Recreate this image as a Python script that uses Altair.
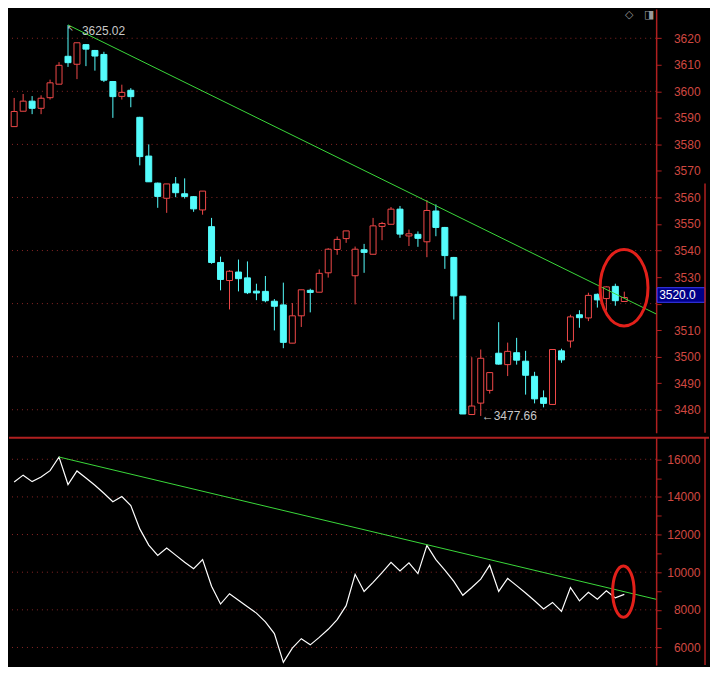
import altair as alt
import pandas as pd

# ---------------- data ----------------
N = list(range(1, 70))
OPEN = [3586.7, 3592.5, 3596.3, 3593.6, 3597.6, 3602.7, 3613.2, 3610.2, 3617.6, 3615.4,
        3613.9, 3603.7, 3598.1, 3600.4, 3590.2, 3575.6, 3565.4, 3559.7, 3565.1, 3561.4,
        3560.3, 3555.3, 3549.0, 3535.5, 3528.7, 3531.9, 3529.7, 3524.7, 3524.6, 3520.9,
        3519.5, 3505.1, 3515.4, 3525.0, 3524.3, 3531.6, 3540.4, 3544.5, 3530.5, 3540.3,
        3538.6, 3549.1, 3549.9, 3555.6, 3545.5, 3546.1, 3543.3, 3554.9, 3548.7, 3537.4,
        3522.8, 3478.2, 3482.5, 3487.3, 3501.3, 3497.0, 3501.5, 3498.3, 3492.6, 3484.5,
        3482.0, 3502.2, 3505.9, 3515.8, 3514.6, 3523.5, 3521.9, 3526.5, 3520.8]
HIGH = [3597.5, 3599.0, 3598.2, 3598.5, 3604.4, 3611.0, 3625.02, 3618.3, 3617.8, 3615.6,
        3614.9, 3603.9, 3602.5, 3601.2, 3590.4, 3580.0, 3565.6, 3565.1, 3567.7, 3567.2,
        3560.5, 3562.4, 3552.3, 3537.7, 3532.6, 3536.6, 3535.9, 3527.5, 3530.4, 3521.7,
        3527.9, 3520.2, 3525.2, 3525.6, 3532.9, 3540.9, 3545.3, 3547.4, 3541.5, 3542.5,
        3552.3, 3550.8, 3556.4, 3556.8, 3547.9, 3547.2, 3559.0, 3557.4, 3548.9, 3537.6,
        3522.8, 3499.8, 3502.7, 3494.2, 3513.0, 3505.3, 3507.1, 3502.2, 3494.3, 3487.3,
        3502.7, 3503.0, 3515.8, 3517.5, 3524.1, 3523.8, 3526.5, 3527.5, 3524.5]
LOW = [3586.7, 3592.5, 3591.4, 3591.4, 3596.9, 3602.7, 3609.2, 3604.6, 3609.5, 3607.8,
       3603.5, 3590.0, 3596.9, 3594.0, 3572.1, 3565.9, 3556.1, 3554.2, 3560.1, 3559.6,
       3554.6, 3553.5, 3535.0, 3525.0, 3517.8, 3524.6, 3523.6, 3521.3, 3520.5, 3509.9,
       3503.2, 3505.1, 3511.2, 3516.7, 3524.3, 3529.8, 3538.4, 3542.9, 3519.7, 3531.6,
       3538.6, 3543.9, 3549.9, 3544.8, 3541.7, 3541.4, 3537.5, 3545.4, 3533.1, 3514.0,
       3478.4, 3478.0, 3477.66, 3486.1, 3497.0, 3492.7, 3497.0, 3485.7, 3482.4, 3480.9,
       3482.0, 3497.7, 3503.4, 3510.9, 3513.4, 3518.5, 3517.4, 3519.2, 3520.8]
CLOSE = [3592.4, 3596.3, 3593.6, 3597.4, 3603.2, 3609.8, 3610.8, 3618.3, 3615.9, 3613.3,
         3604.2, 3598.0, 3599.6, 3598.0, 3575.4, 3565.9, 3560.4, 3565.1, 3561.8, 3560.4,
         3555.7, 3562.4, 3535.5, 3529.1, 3532.2, 3529.4, 3524.1, 3524.0, 3521.1, 3519.0,
         3505.4, 3515.4, 3525.2, 3524.2, 3531.4, 3540.5, 3544.2, 3547.4, 3540.5, 3539.3,
         3549.3, 3550.2, 3555.6, 3546.2, 3546.3, 3544.6, 3555.1, 3548.7, 3538.1, 3522.9,
         3478.4, 3481.4, 3499.4, 3494.0, 3497.2, 3502.0, 3498.7, 3493.0, 3484.1, 3482.4,
         3502.7, 3498.8, 3515.0, 3514.7, 3523.1, 3521.4, 3526.3, 3521.1, 3522.3]
LINE = [14795, 15157, 14812, 15053, 15398, 16120, 14658, 15380, 15002, 14623,
        14193, 13745, 14021, 13539, 12300, 11439, 10888, 11284, 10906, 10527,
        10183, 10665, 9254, 8307, 8858, 8514, 8169, 7825, 7361, 6741,
        5209, 5967, 6466, 6139, 6535, 6965, 7481, 8221, 9890, 8978,
        9460, 9977, 10527, 10063, 10493, 9925, 11422, 10665, 10114, 9512,
        8772, 9185, 9632, 10372, 8978, 9667, 9288, 8892, 8479, 8049,
        8393, 7911, 9185, 8479, 8927, 8565, 9013, 8634, 8823]

TREND_UP_X = [7, 72.55]
TREND_UP_Y = [3625.02, 3516.1]
TREND_LO_X = [6, 72.55]
TREND_LO_Y = [16120, 8560]

UP_TICKS = list(range(3480, 3621, 10))
UP_GRID = list(range(3480, 3621, 20))
LO_TICKS = list(range(6000, 16001, 1000))
LO_GRID = list(range(6000, 16001, 2000))

PEAK_N, PEAK_P, PEAK_LABEL = 7, 3625.02, "3625.02"
LOW_N, LOW_P, LOW_LABEL = 53, 3477.66, "←3477.66"
TAG_TEXT, TAG_TOP, TAG_BOT, TAG_MID = "3520.0", 3526.0, 3520.5, 3523.2
TAG_COVERS = 3520   # axis label hidden behind the last-price tag
ELL_UP = (68.97, 3526.0)
ELL_LO = (68.9, 8972)

# ---------------- styling ----------------
BG = "#000000"
RED = "#f04848"
CYAN = "#54fcfc"
GREEN = "#3ad83a"
GRID = "#8a2626"
AXC = "#b02020"
LBL = "#d04840"
TXT = "#c8c8c8"
ELL = "#e2201a"
FONT = "Liberation Sans"

W, H_UP, H_LO = 649, 425, 228

xs = alt.Scale(domain=[0.424, 72.55], nice=False, zero=False, padding=0)
ys_up = alt.Scale(domain=[3471.34, 3631.05], nice=False, zero=False, padding=0)
ys_lo = alt.Scale(domain=[5065, 17146], nice=False, zero=False, padding=0)


def ellipse_path(a):
    k = 0.5523
    return (f"M {a} 0 C {a} {k} {a*k:.4f} 1 0 1 C {-a*k:.4f} 1 {-a} {k} {-a} 0 "
            f"C {-a} {-k} {-a*k:.4f} -1 0 -1 C {a*k:.4f} -1 {a} {-k} {a} 0 Z")


df = pd.DataFrame({"n": N, "o": OPEN, "h": HIGH, "l": LOW, "c": CLOSE})
df["dir"] = ["up" if c >= o else "down" for o, c in zip(OPEN, CLOSE)]
df["top"] = df[["o", "c"]].max(axis=1)
df["bot"] = df[["o", "c"]].min(axis=1)

dir_stroke = alt.Scale(domain=["up", "down"], range=[RED, CYAN])
dir_fill = alt.Scale(domain=["up", "down"], range=[BG, CYAN])

# ---------------- upper panel ----------------
up_axis = alt.Axis(orient="right", values=UP_TICKS, format="d", grid=False, title=None,
                   domainColor=AXC, domainWidth=1.5, tickColor=AXC, tickSize=5,
                   labelColor=LBL, labelFont=FONT, labelFontSize=12, labelAlign="right",
                   labelBaseline="middle", labelPadding=39, labelOverlap=False,
                   labelFlush=False, labelBound=False,
                   labelExpr=f"datum.value === {TAG_COVERS} ? '' : datum.label")


def YU(field):
    return alt.Y(field, scale=ys_up, axis=up_axis)


grid_up = alt.Chart(pd.DataFrame({"g": UP_GRID})).mark_rule(
    color=GRID, strokeDash=[1, 4], strokeWidth=1).encode(y=YU("g:Q"))

wicks = alt.Chart(df).mark_rule(strokeWidth=1).encode(
    x=alt.X("n:Q", scale=xs, axis=None),
    y=YU("l:Q"), y2="h:Q",
    color=alt.Color("dir:N", scale=dir_stroke, legend=None))

bodies = alt.Chart(df).mark_bar(size=6, strokeWidth=1, opacity=1).encode(
    x=alt.X("n:Q", scale=xs, axis=None),
    y=YU("bot:Q"), y2="top:Q",
    fill=alt.Fill("dir:N", scale=dir_fill, legend=None),
    stroke=alt.Stroke("dir:N", scale=dir_stroke, legend=None))

trend_up = alt.Chart(pd.DataFrame({"x": [TREND_UP_X[0]], "x2": [TREND_UP_X[1]],
                                   "y": [TREND_UP_Y[0]], "y2": [TREND_UP_Y[1]]})).mark_rule(
    color=GREEN, strokeWidth=1).encode(
    x=alt.X("x:Q", scale=xs, axis=None), x2="x2:Q", y=YU("y:Q"), y2="y2:Q")

peak_df = pd.DataFrame({"n": [PEAK_N], "p": [PEAK_P], "t": [PEAK_LABEL], "a": ["↖"]})
peak_txt = alt.Chart(peak_df).mark_text(
    align="left", baseline="middle", dx=14, dy=6, font=FONT, fontSize=12, color=TXT).encode(
    x=alt.X("n:Q", scale=xs, axis=None), y=YU("p:Q"), text="t:N")
peak_arrow = alt.Chart(peak_df).mark_text(
    align="left", baseline="top", dx=-1, dy=0, font="DejaVu Sans", fontSize=8, color=TXT).encode(
    x=alt.X("n:Q", scale=xs, axis=None), y=YU("p:Q"), text="a:N")

low_txt = alt.Chart(pd.DataFrame({"n": [LOW_N], "p": [LOW_P], "t": [LOW_LABEL]})).mark_text(
    align="left", baseline="middle", dx=1, dy=0, font=FONT, fontSize=12, color=TXT).encode(
    x=alt.X("n:Q", scale=xs, axis=None), y=YU("p:Q"), text="t:N")

ell_up = alt.Chart(pd.DataFrame({"n": [ELL_UP[0]], "p": [ELL_UP[1]]})).mark_point(
    shape=ellipse_path(0.627), size=5868, filled=False, stroke=ELL, strokeWidth=3,
    opacity=1).encode(
    x=alt.X("n:Q", scale=xs, axis=None), y=YU("p:Q"))

tag_df = pd.DataFrame({"y": [TAG_TOP], "y2": [TAG_BOT], "m": [TAG_MID], "t": [TAG_TEXT]})
tag_box = alt.Chart(tag_df).mark_rect(fill="#000088", stroke="#3a3aff", strokeWidth=1).encode(
    x=alt.value(650), x2=alt.value(698), y=YU("y:Q"), y2="y2:Q")
tag_txt = alt.Chart(tag_df).mark_text(
    align="left", baseline="middle", font=FONT, fontSize=12, color="#ffffff").encode(
    x=alt.value(652), y=YU("m:Q"), text="t:N")

icons = alt.Chart(pd.DataFrame({"t": ["◇", "◨"], "px": [622, 642]})).mark_text(
    align="center", baseline="middle", font="DejaVu Sans", fontSize=11, color="#9a9a9a").encode(
    x=alt.X("px:Q", scale=None, axis=None), y=alt.value(6.5), text="t:N")

right_up = alt.Chart(pd.DataFrame({"k": [0]})).mark_rule(color=AXC, strokeWidth=1.5).encode(
    x=alt.value(698), y=alt.value(175), y2=alt.value(H_UP))

upper = alt.layer(grid_up, wicks, bodies, trend_up, peak_arrow, peak_txt, low_txt,
                  ell_up, tag_box, tag_txt, icons, right_up).properties(width=W, height=H_UP)

# ---------------- lower panel ----------------
lo_axis = alt.Axis(orient="right", values=LO_TICKS, format="d", grid=False, title=None,
                   domainColor=AXC, domainWidth=1.5, tickColor=AXC, tickSize=5,
                   labelColor=LBL, labelFont=FONT, labelFontSize=12, labelAlign="right",
                   labelBaseline="middle", labelPadding=39, labelOverlap=False,
                   labelFlush=False, labelBound=False,
                   labelExpr="datum.value % 2000 === 0 ? datum.label : ''")


def YL(field):
    return alt.Y(field, scale=ys_lo, axis=lo_axis)


grid_lo = alt.Chart(pd.DataFrame({"g": LO_GRID})).mark_rule(
    color=GRID, strokeDash=[1, 4], strokeWidth=1).encode(y=YL("g:Q"))

sep = alt.Chart(pd.DataFrame({"k": [0]})).mark_rule(color=AXC, strokeWidth=2).encode(
    x=alt.value(0), x2=alt.value(702), y=alt.value(0))

right_lo = alt.Chart(pd.DataFrame({"k": [0]})).mark_rule(color=AXC, strokeWidth=1.5).encode(
    x=alt.value(698), y=alt.value(0), y2=alt.value(H_LO))

line_df = pd.DataFrame({"n": N, "v": LINE})
white = alt.Chart(line_df).mark_line(color="#ffffff", strokeWidth=1.2).encode(
    x=alt.X("n:Q", scale=xs, axis=None), y=YL("v:Q"))

trend_lo = alt.Chart(pd.DataFrame({"x": [TREND_LO_X[0]], "x2": [TREND_LO_X[1]],
                                   "y": [TREND_LO_Y[0]], "y2": [TREND_LO_Y[1]]})).mark_rule(
    color=GREEN, strokeWidth=1).encode(
    x=alt.X("x:Q", scale=xs, axis=None), x2="x2:Q", y=YL("y:Q"), y2="y2:Q")

ell_lo = alt.Chart(pd.DataFrame({"n": [ELL_LO[0]], "v": [ELL_LO[1]]})).mark_point(
    shape=ellipse_path(0.42), size=2642, filled=False, stroke=ELL, strokeWidth=3,
    opacity=1).encode(
    x=alt.X("n:Q", scale=xs, axis=None), y=YL("v:Q"))

lower = alt.layer(grid_lo, white, trend_lo, ell_lo, right_lo, sep).properties(
    width=W, height=H_LO)

chart = alt.vconcat(upper, lower, spacing=3).properties(
    padding=0, background=BG).configure_view(stroke=None)

chart.save("out.html", embed_options={"renderer": "svg", "actions": False})
